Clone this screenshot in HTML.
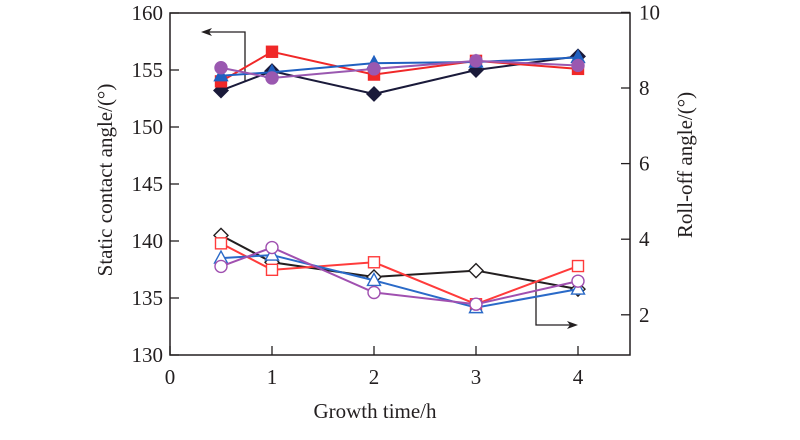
<!DOCTYPE html>
<html><head><meta charset="utf-8"><style>
body{margin:0;background:#fff;}
svg text{font-family:"Liberation Serif",serif;fill:#231f20;}
</style></head><body>
<svg id="chart" width="800" height="435" viewBox="0 0 800 435" xmlns="http://www.w3.org/2000/svg">
<g id="axes"></g><g id="series"></g>
</svg>
<script>
const xValues=[0.5,1,2,3,4];
const xTicks=[0,1,2,3,4];
const leftTicks=[130,135,140,145,150,155,160];
const rightTicks=[2,4,6,8,10];
const staticBlack=[153.2,154.9,152.9,155.0,156.2];
const staticRed=[154.0,156.6,154.6,155.8,155.1];
const staticBlue=[154.5,154.8,155.6,155.7,156.1];
const staticPurple=[155.2,154.3,155.1,155.8,155.4];
const rollBlack=[4.10,3.39,3.00,3.17,2.68];
const rollRed=[3.89,3.19,3.39,2.28,3.29];
const rollBlue=[3.50,3.58,2.91,2.19,2.68];
const rollPurple=[3.28,3.78,2.59,2.28,2.89];

const NS="http://www.w3.org/2000/svg";
const L=170,R=630,T=13,B=355;
const xs=v=>L+v*102;
const yl=v=>B-(v-130)*(B-T)/30;
const yr=v=>88-(v-8)*37.8;
const axes=document.getElementById('axes'),ser=document.getElementById('series');
function mk(tag,at,parent){const e=document.createElementNS(NS,tag);for(const k in at)e.setAttribute(k,at[k]);parent.appendChild(e);return e;}

let frame=mk('rect',{x:L,y:T,width:R-L,height:B-T,fill:'none',stroke:'#231f20','stroke-width':1.5},axes);


xTicks.forEach(t=>{
  const ln=mk('line',{x1:xs(t),x2:xs(t),y1:B,y2:B-9,stroke:'#231f20','stroke-width':1.3},axes);
  
  
  const tx=mk('text',{x:xs(t),y:B+29,'text-anchor':'middle','font-size':21},axes);tx.textContent=t;
  
  
});
leftTicks.forEach(t=>{
  const ln=mk('line',{x1:L,x2:L+9,y1:yl(t),y2:yl(t),stroke:'#231f20','stroke-width':1.3},axes);
  
  
  const tx=mk('text',{x:163,y:yl(t)+7,'text-anchor':'end','font-size':21},axes);tx.textContent=t;
  
  
});
rightTicks.forEach(t=>{
  const ln=mk('line',{x1:R,x2:R-9,y1:yr(t),y2:yr(t),stroke:'#231f20','stroke-width':1.3},axes);
  
  
  const tx=mk('text',{x:639,y:yr(t)+7,'text-anchor':'start','font-size':21},axes);tx.textContent=t;
  
  
});
let t1=mk('text',{x:0,y:0,'text-anchor':'middle','font-size':21,transform:'translate(112,180) rotate(-90)'},axes);t1.textContent='Static contact angle/(°)';


let t2=mk('text',{x:0,y:0,'text-anchor':'middle','font-size':21,transform:'translate(692,165) rotate(-90)'},axes);t2.textContent='Roll-off angle/(°)';


let t3=mk('text',{x:375,y:418,'text-anchor':'middle','font-size':21},axes);t3.textContent='Growth time/h';



// indicator arrows
let a1=mk('path',{d:'M245,82 V32 H206',fill:'none',stroke:'#231f20','stroke-width':1.3},axes);


mk('path',{d:'M201,32 L212,28 L209,32 L212,36 Z',fill:'#231f20'},axes);
let a2=mk('path',{d:'M536,282 V325 H572',fill:'none',stroke:'#231f20','stroke-width':1.3},axes);


mk('path',{d:'M578,325 L567,321 L570,325 L567,329 Z',fill:'#231f20'},axes);

function marker(shape,x,y,col,filled,name){
  let e;const f=filled?col:'#fff';const a={fill:f,stroke:col,'stroke-width':1.4};
  if(shape==='sq'){e=mk('rect',Object.assign({x:x-5.5,y:y-5.5,width:11,height:11},a),ser);}
  else if(shape==='ci'){e=mk('circle',Object.assign({cx:x,cy:y,r:6},a),ser);}
  else if(shape==='tr'){e=mk('path',Object.assign({d:`M${x},${y-7} L${x+6.5},${y+5} L${x-6.5},${y+5} Z`},a),ser);}
  else {e=mk('path',Object.assign({d:`M${x},${y-7} L${x+7},${y} L${x},${y+7} L${x-7},${y} Z`},a),ser);}
  
  
}
function series(vals,scale,col,shape,filled,name){
  const pts=vals.map((v,i)=>xs(xValues[i])+','+scale(v)).join(' ');
  const pl=mk('polyline',{points:pts,fill:'none',stroke:col,'stroke-width':2},ser);
  
  
  vals.forEach((v,i)=>marker(shape,xs(xValues[i]),scale(v),col,filled,name+'-point'));
}
series(rollBlack,yr,'#231f20','di',false,'roll-black');
series(rollRed,yr,'#ff3b3b','sq',false,'roll-red');
series(rollBlue,yr,'#2a6ac8','tr',false,'roll-blue');
series(rollPurple,yr,'#a050b0','ci',false,'roll-purple');
series(staticBlack,yl,'#1a1a3a','di',true,'static-black');
series(staticRed,yl,'#f02828','sq',true,'static-red');
series(staticBlue,yl,'#2060c0','tr',true,'static-blue');
series(staticPurple,yl,'#9a58b0','ci',true,'static-purple');
</script>
</body></html>
